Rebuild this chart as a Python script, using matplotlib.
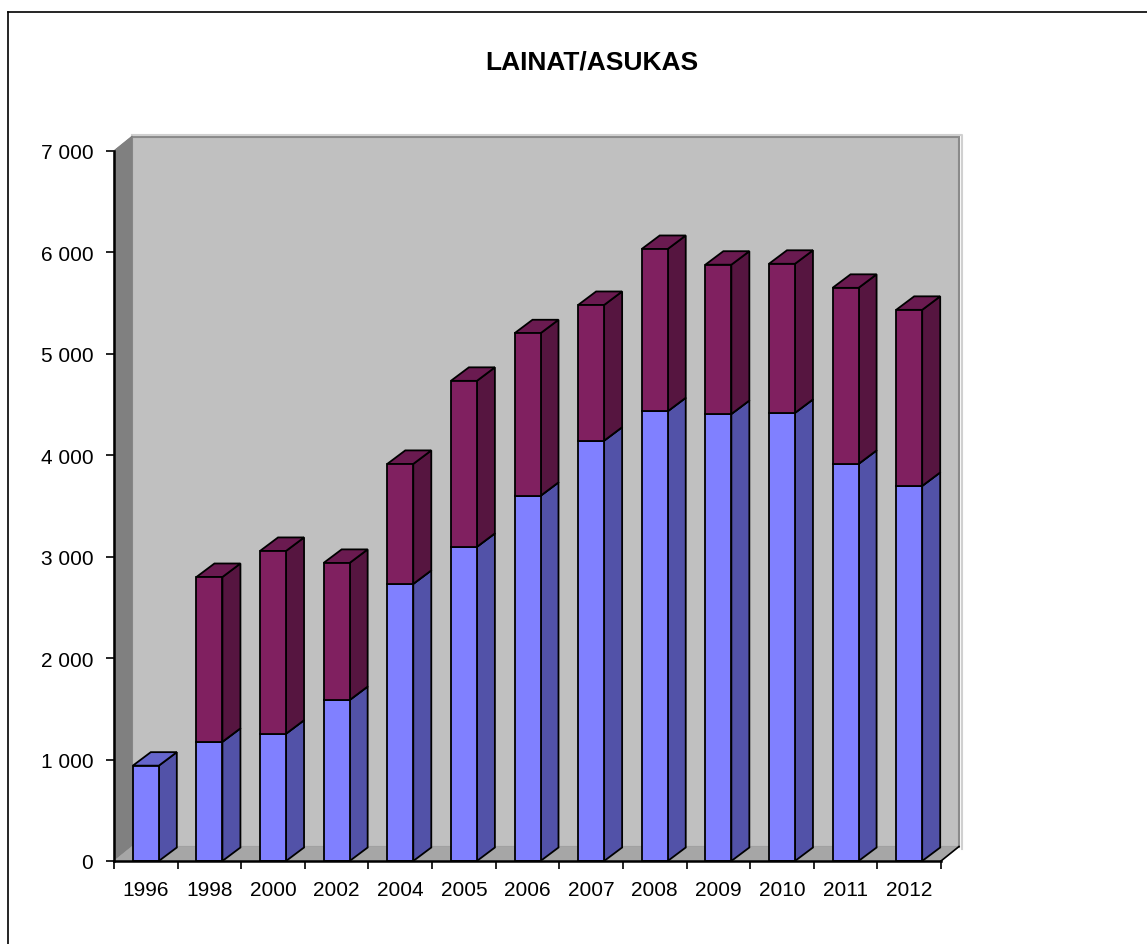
import matplotlib
matplotlib.use("Agg")
import matplotlib.pyplot as plt
from matplotlib.patches import Polygon, Rectangle
from matplotlib.lines import Line2D
from matplotlib.ticker import FuncFormatter, FixedLocator

plt.rcParams['font.family'] = ['Liberation Sans', 'DejaVu Sans']

years = ['1996', '1998', '2000', '2002', '2004', '2005', '2006',
         '2007', '2008', '2009', '2010', '2011', '2012']
lower = [940, 1175, 1255, 1587, 2732, 3097, 3600, 4144, 4434, 4407, 4418, 3915, 3698]
upper = [0, 1625, 1802, 1352, 1183, 1637, 1603, 1338, 1600, 1472, 1470, 1736, 1736]
yticks = [0, 1000, 2000, 3000, 4000, 5000, 6000, 7000]
title = 'LAINAT/ASUKAS'

W, H = 1147, 945
fig = plt.figure(figsize=(W / 100, H / 100), dpi=100)
fig.patch.set_facecolor('white')

# axes placement in pixels
L, R, B, T = 114, 941, 862, 152
ax = fig.add_axes([L / W, (H - B) / H, (R - L) / W, (B - T) / H])
ax.set_xlim(-0.5, len(years) - 0.5)
ax.set_ylim(0, 7000)
ax.set_facecolor('none')

px_x = (len(years)) / (R - L)       # data units per pixel (x)
px_y = 7000 / (B - T)               # data units per pixel (y)
DX = 18 * px_x
DY = 13.5 * px_y
WDX = 18 * px_x
WDY = 14.5 * px_y

x0, x1 = -0.5, len(years) - 0.5
ymax = 7000

# back wall
ax.add_patch(Polygon([(x0 + WDX, WDY), (x1 + WDX, WDY), (x1 + WDX, ymax + WDY), (x0 + WDX, ymax + WDY)],
                     closed=True, facecolor='#C0C0C0', edgecolor='#8A8A8A', lw=1.5, clip_on=False, zorder=1))
# outer light edge of wall
ax.add_line(Line2D([x0 + WDX, x1 + WDX + 3 * px_x, x1 + WDX + 3 * px_x],
                   [ymax + WDY + 2 * px_y, ymax + WDY + 2 * px_y, WDY - 2 * px_y],
                   color='#D0D0D0', lw=1.5, clip_on=False, zorder=1))
# left side wall
ax.add_patch(Polygon([(x0, 0), (x0, ymax), (x0 + WDX, ymax + WDY), (x0 + WDX, WDY)],
                     closed=True, facecolor='#808080', edgecolor='#808080', lw=0.5, clip_on=False, zorder=1))
# floor
ax.add_patch(Polygon([(x0, 0), (x1, 0), (x1 + WDX, WDY), (x0 + WDX, WDY)],
                     closed=True, facecolor='#A6A6A6', edgecolor='#A6A6A6', lw=0.5, clip_on=False, zorder=1))
# floor right edge diagonal
ax.add_line(Line2D([x1, x1 + WDX], [0, WDY], color='black', lw=1.2, clip_on=False, zorder=2))
ax.add_line(Line2D([x0, x0 + WDX], [ymax, ymax + WDY], color='#808080', lw=1, clip_on=False, zorder=2))

bw = 26 * px_x
blue = ('#8080FF', '#5252A8', '#6666CC')
purple = ('#802060', '#561540', '#6A1A50')


def bar3d(xc, bottom, height, cols):
    top = bottom + height
    xl, xr = xc - bw / 2, xc + bw / 2
    ax.add_patch(Rectangle((xl, bottom), bw, height, facecolor=cols[0], edgecolor='black',
                           lw=1.3, zorder=5, clip_on=False))
    ax.add_patch(Polygon([(xr, bottom), (xr + DX, bottom + DY), (xr + DX, top + DY), (xr, top)],
                         closed=True, facecolor=cols[1], edgecolor='black', lw=1.3, zorder=4,
                         clip_on=False))
    ax.add_patch(Polygon([(xl, top), (xr, top), (xr + DX, top + DY), (xl + DX, top + DY)],
                         closed=True, facecolor=cols[2], edgecolor='black', lw=1.3, zorder=4,
                         clip_on=False))


for i in range(len(years)):
    bar3d(i, 0, lower[i], blue)
    if upper[i] > 0:
        bar3d(i, lower[i], upper[i], purple)

# spines / ticks
for s in ['top', 'right']:
    ax.spines[s].set_visible(False)
ax.spines['left'].set_linewidth(1.8)
ax.spines['bottom'].set_linewidth(1.8)
ax.spines['left'].set_zorder(6)
ax.spines['bottom'].set_zorder(6)

ax.xaxis.set_major_locator(FixedLocator(list(range(len(years)))))
ax.set_xticklabels(years, fontsize=15)
ax.xaxis.set_minor_locator(FixedLocator([i - 0.5 for i in range(len(years) + 1)]))
ax.tick_params(axis='x', which='major', length=0, pad=14)
ax.tick_params(axis='x', which='minor', length=6, width=1.2, direction='out')
ax.set_yticks(yticks)
ax.yaxis.set_major_formatter(FuncFormatter(lambda v, p: f"{v:,.0f}".replace(',', ' ')))
ax.tick_params(axis='y', length=6, width=1.2, direction='out', labelsize=15, pad=9)

fig.text(592 / W, 1 - 62 / H, title, ha='center', va='center', fontsize=19, fontweight='bold')

# outer frame (top and left edges visible)
fig.add_artist(Line2D([8 / W, 1.0], [1 - 13 / H, 1 - 13 / H], color='black', lw=1.2,
                      transform=fig.transFigure))
fig.add_artist(Line2D([8 / W, 8 / W], [0, 1 - 13 / H], color='black', lw=1.2,
                      transform=fig.transFigure))

fig.savefig('out.png', dpi=100)
